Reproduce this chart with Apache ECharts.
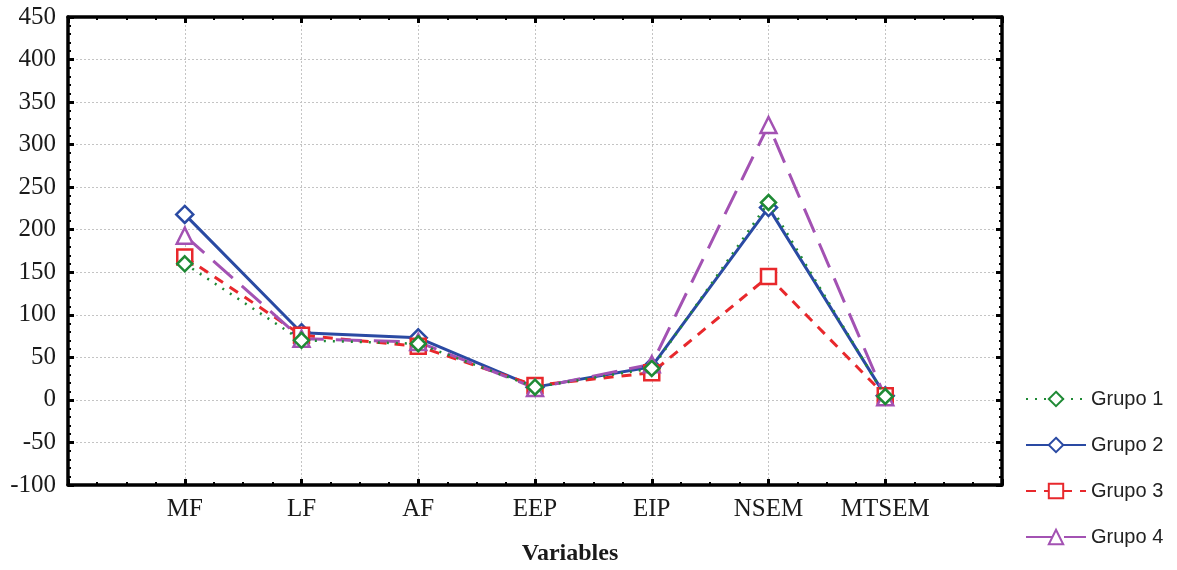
<!DOCTYPE html>
<html>
<head>
<meta charset="utf-8">
<script src="https://cdn.jsdelivr.net/npm/echarts@6/dist/echarts.min.js"></script>
<style>html,body{margin:0;padding:0;background:#fff;}#c{width:1177px;height:570px;}</style>
</head>
<body>
<div id="c"></div>
<script>
var categories = ['MF', 'LF', 'AF', 'EEP', 'EIP', 'NSEM', 'MTSEM'];
var grupo1 = [160, 70, 66, 15, 37, 232, 4];
var grupo2 = [218, 79, 73, 15, 39, 226, 5];
var grupo3 = [168, 76, 63, 17, 32, 145, 5];
var grupo4 = [193, 72, 68, 14, 42, 323, 3];
var seriesNames = ['Grupo 1', 'Grupo 2', 'Grupo 3', 'Grupo 4'];
var yTicks = [-100, 450, 50];

function pts(vals) { return vals.map(function (v, i) { return [i + 1, v]; }); }

var chart = echarts.init(document.getElementById('c'), null, { renderer: 'canvas' });
var serif = '"Liberation Serif", "Times New Roman", serif';
var axisBase = {
  axisLine: { show: true, onZero: false, lineStyle: { color: '#000', width: 3.5 } },
  axisTick: { show: true, inside: true, length: 6, lineStyle: { color: '#000', width: 3 } },
  minorTick: { show: true, length: 3, lineStyle: { color: '#000', width: 2 } }
};
var gridLine = { show: true, lineStyle: { color: '#c4c4c4', type: [2, 2], width: 1 } };

chart.setOption({
  animation: false,
  backgroundColor: '#fff',
  grid: { left: 68, right: 175, top: 17, bottom: 85, containLabel: false, outerBoundsMode: 'none' },
  xAxis: [
    Object.assign({}, axisBase, {
      type: 'value', min: 0, max: categories.length + 1, interval: 1, position: 'bottom',
      minorTick: { show: true, splitNumber: 4, length: 3, lineStyle: { color: '#000', width: 2 } },
      axisLabel: { margin: 12, fontFamily: serif, fontSize: 25, color: '#1a1a1a',
        formatter: function (v) { return categories[v - 1] || ''; } },
      splitLine: gridLine,
      name: 'Variables', nameLocation: 'middle', nameGap: 57,
      nameTextStyle: { fontFamily: serif, fontSize: 24, fontWeight: 'bold', color: '#1a1a1a', padding: [0, 0, 0, 70] }
    }),
    Object.assign({}, axisBase, {
      type: 'value', min: 0, max: categories.length + 1, interval: 1, position: 'top',
      minorTick: { show: true, splitNumber: 4, length: 3, lineStyle: { color: '#000', width: 2 } },
      axisLabel: { show: false }, splitLine: { show: false }
    })
  ],
  yAxis: [
    Object.assign({}, axisBase, {
      type: 'value', min: yTicks[0], max: yTicks[1], interval: yTicks[2], position: 'left',
      minorTick: { show: true, splitNumber: 5, length: 3, lineStyle: { color: '#000', width: 2 } },
      axisLabel: { margin: 12, fontFamily: serif, fontSize: 25, color: '#1a1a1a' },
      splitLine: gridLine
    }),
    Object.assign({}, axisBase, {
      type: 'value', min: yTicks[0], max: yTicks[1], interval: yTicks[2], position: 'right',
      minorTick: { show: true, splitNumber: 5, length: 3, lineStyle: { color: '#000', width: 2 } },
      axisLabel: { show: false }, splitLine: { show: false }
    })
  ],
  legend: {
    orient: 'vertical', left: 1020, top: 384,
    itemWidth: 60, itemHeight: 18, itemGap: 26,
    textStyle: { fontFamily: '"Liberation Sans", Arial, sans-serif', fontSize: 20, color: '#222' },
    data: seriesNames
  },
  series: [
    { name: seriesNames[0], type: 'line', data: pts(grupo1), symbol: 'diamond', symbolSize: 15,
      color: '#1f8a35',
      lineStyle: { color: '#1f8a35', width: 2.5, type: [2, 7] },
      itemStyle: { color: '#fff', borderColor: '#1f8a35', borderWidth: 2.5 }, z: 4 },
    { name: seriesNames[1], type: 'line', data: pts(grupo2), symbol: 'diamond', symbolSize: 17,
      color: '#2a4aa3',
      lineStyle: { color: '#2a4aa3', width: 3 },
      itemStyle: { color: '#fff', borderColor: '#2a4aa3', borderWidth: 2.5 }, z: 3 },
    { name: seriesNames[2], type: 'line', data: pts(grupo3), symbol: 'rect', symbolSize: 15,
      color: '#e8282c',
      lineStyle: { color: '#e8282c', width: 3, type: [10, 8] },
      itemStyle: { color: '#fff', borderColor: '#e8282c', borderWidth: 2.5 }, z: 3 },
    { name: seriesNames[3], type: 'line', data: pts(grupo4), symbol: 'triangle', symbolSize: 16,
      color: '#a352b3',
      lineStyle: { color: '#a352b3', width: 3, type: [26, 12] },
      itemStyle: { color: '#fff', borderColor: '#a352b3', borderWidth: 2.5 }, z: 3 }
  ]
});
</script>
</body>
</html>
